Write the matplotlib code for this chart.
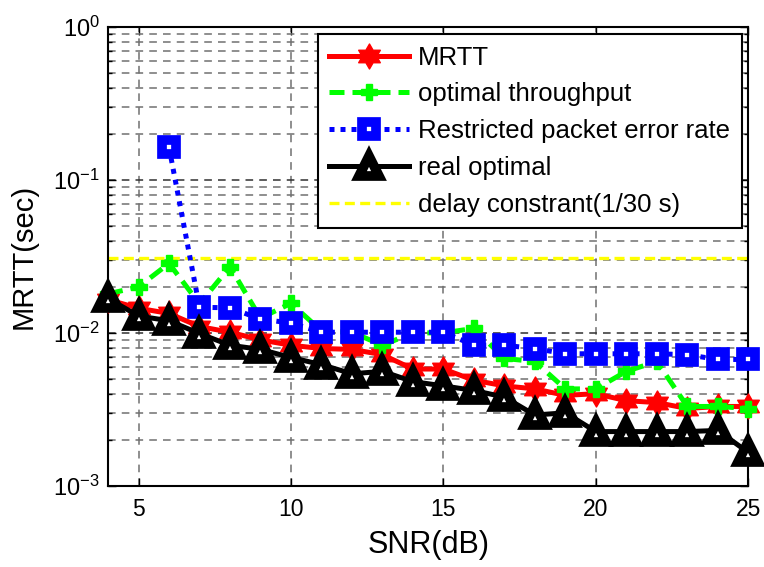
import matplotlib
matplotlib.use("Agg")
import matplotlib.pyplot as plt
from matplotlib.path import Path
from matplotlib.ticker import LogLocator, FixedLocator

plt.rcParams['font.family'] = ['Liberation Sans', 'DejaVu Sans']
plt.rcParams['mathtext.fontset'] = 'custom'
plt.rcParams['mathtext.rm'] = 'Liberation Sans'
plt.rcParams['mathtext.it'] = 'Liberation Sans'

snr = list(range(4, 26))
snr_pe = list(range(6, 26))

mrtt = [0.0165, 0.0145, 0.0134, 0.0110, 0.0101, 0.0090, 0.0083, 0.0079, 0.0078,
        0.0072, 0.0058, 0.0058, 0.0049, 0.0045, 0.0043, 0.0039, 0.0040, 0.0036,
        0.0035, 0.0032, 0.0033, 0.0033]
opt_thr = [0.0180, 0.0200, 0.0285, 0.0155, 0.0271, 0.0125, 0.0156, 0.0103, 0.0101,
           0.0083, 0.0100, 0.0100, 0.0107, 0.0068, 0.0065, 0.0043, 0.0043, 0.0056,
           0.0065, 0.0033, 0.0033, 0.0032]
restricted = [0.164, 0.0147, 0.0146, 0.0123, 0.0116, 0.0101, 0.0101, 0.0101, 0.0101,
              0.0101, 0.0083, 0.0083, 0.0079, 0.0073, 0.0073, 0.0073, 0.0073, 0.0072,
              0.0067, 0.0067]
real_opt = [0.0168, 0.0129, 0.0120, 0.0099, 0.0083, 0.0078, 0.0069, 0.0062, 0.0054,
            0.0056, 0.0048, 0.0045, 0.0042, 0.0038, 0.0029, 0.0030, 0.00226, 0.00226,
            0.00226, 0.00226, 0.0023, 0.00165]
delay = 0.031

labels = ['MRTT', 'optimal throughput', 'Restricted packet error rate',
          'real optimal', 'delay constrant(1/30 s)']
xticks = [5, 10, 15, 20, 25]

hexagram = Path.unit_regular_star(6, 0.577)

fig = plt.figure(figsize=(7.64, 5.67), dpi=100)
ax = fig.add_axes([0.1414, 0.1434, 0.8380, 0.8085])

ax.plot(snr, mrtt, color='red', lw=3.6, marker=hexagram, ms=18, mew=1,
        mfc='red', mec='red', label=labels[0], zorder=3, clip_on=False)
ax.plot(snr, opt_thr, color='#00ff00', lw=3.6, ls=(0, (3, 1.6)), marker='P', ms=12,
        mfc='#00ff00', mec='#00ff00', label=labels[1], zorder=3, clip_on=False)
ax.plot(snr_pe, restricted, color='blue', lw=3.6, ls=(0, (1, 1.2)), marker='s', ms=10,
        mfc='white', mec='blue', mew=7, label=labels[2], zorder=4, clip_on=False)
ax.plot(snr, real_opt, color='black', lw=3.6, marker='^', ms=14,
        mfc='white', mec='black', mew=7, label=labels[3], zorder=5, clip_on=False)
ax.plot([4, 25], [delay, delay], color='yellow', lw=2.4, ls=(0, (3, 1.6)),
        label=labels[4], zorder=2)

ax.set_yscale('log')
ax.set_xlim(4, 25)
ax.set_ylim(1e-3, 1e0)
ax.xaxis.set_major_locator(FixedLocator(xticks))
ax.yaxis.set_major_locator(LogLocator(base=10, numticks=10))
ax.yaxis.set_minor_locator(LogLocator(base=10, subs=range(2, 10), numticks=20))

ax.grid(True, which='major', axis='x', color='#707070', ls=(0, (5, 4)), lw=1.1)
ax.grid(True, which='major', axis='y', color='#303030', ls=(0, (5, 4)), lw=1.1)
ax.grid(True, which='minor', axis='y', color='#707070', ls=(0, (5, 4)), lw=1.1)
ax.tick_params(which='both', direction='in', top=True, right=True,
               labelsize=16.5, width=1)
ax.tick_params(axis='x', which='major', pad=9)
ax.tick_params(axis='y', which='major', pad=6, labelsize=17)
ax.tick_params(which='major', length=6)
ax.tick_params(which='minor', length=3)
for s in ax.spines.values():
    s.set_linewidth(1.5)

ax.set_xlabel('SNR(dB)', fontsize=22, labelpad=6)
ax.set_ylabel('MRTT(sec)', fontsize=21, labelpad=11)

leg = ax.legend(loc='upper right', bbox_to_anchor=(0.9897, 0.9854), fontsize=18.5,
                frameon=True, fancybox=False, edgecolor='black', framealpha=1,
                handlelength=3.1, borderaxespad=0, labelspacing=0.5,
                handletextpad=0.35, borderpad=0.45)
leg.get_frame().set_linewidth(1.5)

fig.savefig('out.png', dpi=100)
